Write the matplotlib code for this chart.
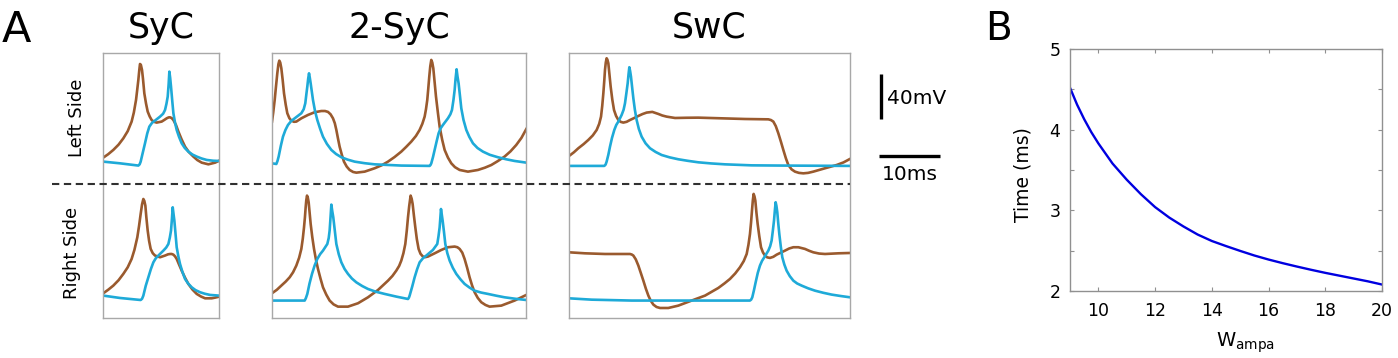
import numpy as np
import matplotlib.pyplot as plt
from matplotlib.lines import Line2D

W, H = 1398, 358
BROWN = '#9a5a2e'
CYAN = '#1eaad8'
GRAY = '#a8a8a8'

# ---- Panel A: membrane potential traces (time in ms, voltage in mV) ----
# SyC, left side
syc_l_brown_t = [0, 0.8, 1.64, 2.5, 3.28, 4.0, 4.64, 5.0, 5.36, 5.55, 5.74, 5.9, 6.01, 6.15, 6.34, 6.5,
                 6.72, 7.0, 7.27, 7.6, 7.92, 8.3, 8.74, 9.56, 10.0, 10.38, 10.7, 10.93, 11.2, 11.48,
                 11.9, 12.3, 12.8, 13.39, 14.0, 14.75, 15.4, 16.12, 17.21, 18.31, 19.0]
syc_l_brown_v = [-61.0, -58.0, -54.2, -49.5, -43.9, -37.5, -29.0, -21.0, -9.8, -1.0, 8.0, 17.0, 22.2,
                 21.5, 16.9, 9.0, -3.9, -13.0, -20.1, -24.5, -27.6, -29.2, -29.9, -29.0, -27.5, -26.1,
                 -25.3, -25.2, -25.9, -27.6, -32.0, -37.9, -44.5, -51.3, -56.0, -60.1, -63.2, -65.5,
                 -67.0, -65.5, -63.7]
syc_l_cyan_t = [0, 2.73, 5.74, 5.95, 6.12, 6.45, 6.83, 7.2, 7.54, 8.0, 8.47, 9.29, 9.8, 10.11, 10.35,
                10.55, 10.7, 10.82, 10.95, 11.09, 11.3, 11.48, 11.75, 12.02, 12.4, 12.84, 13.35, 13.93,
                14.6, 15.3, 16.1, 16.94, 18.0, 19.0]
syc_l_cyan_v = [-64.6, -66.1, -68.1, -67.0, -64.6, -57.0, -48.3, -39.5, -33.5, -30.0, -28.1, -24.6,
                -22.0, -18.7, -13.0, -6.8, 4.0, 15.4, 10.0, 2.1, -11.0, -21.6, -30.0, -36.4, -42.5,
                -48.3, -52.5, -55.7, -58.3, -60.1, -61.8, -63.1, -63.8, -64.0]
# SyC, right side
syc_r_brown_t = [0, 0.8, 1.64, 2.5, 3.28, 4.0, 4.64, 5.1, 5.57, 5.85, 6.12, 6.35, 6.56, 6.72, 6.89,
                 7.05, 7.27, 7.5, 7.76, 8.1, 8.47, 9.29, 10.11, 10.6, 10.93, 11.2, 11.48, 11.75, 12.02,
                 12.4, 12.84, 13.39, 13.93, 14.6, 15.3, 16.0, 16.67, 17.76, 18.3, 19.0]
syc_r_brown_v = [-61.6, -58.5, -54.8, -50.0, -44.4, -38.5, -31.1, -23.0, -11.9, -2.0, 8.9, 17.5, 22.2,
                 20.5, 16.3, 6.0, -5.9, -15.0, -22.2, -26.0, -28.1, -29.6, -28.1, -27.0, -26.7, -26.7,
                 -27.3, -28.8, -31.1, -36.0, -41.5, -47.8, -53.3, -58.3, -62.2, -64.5, -66.1, -66.1,
                 -65.5, -64.6]
syc_r_cyan_t = [0, 2.73, 6.12, 6.35, 6.56, 6.95, 7.38, 7.8, 8.2, 8.6, 9.02, 9.84, 10.3, 10.66, 10.9,
                11.09, 11.25, 11.37, 11.5, 11.64, 11.85, 12.02, 12.3, 12.57, 12.95, 13.39, 13.9, 14.48,
                15.1, 15.85, 16.6, 17.49, 19.0]
syc_r_cyan_v = [-63.7, -65.8, -67.6, -66.5, -63.7, -55.0, -47.4, -40.0, -34.1, -30.5, -28.1, -23.7,
                -21.0, -17.8, -12.0, -5.9, 5.0, 14.8, 9.0, 3.0, -10.0, -20.7, -29.0, -35.6, -42.5, -48.9,
                -53.0, -56.3, -58.8, -60.7, -62.0, -63.1, -63.7]

# 2-SyC, left side
syc2_l_brown_t = [0, 0.2, 0.44, 0.65, 0.87, 1.05, 1.2, 1.35, 1.53, 1.75, 1.97, 2.25, 2.51, 2.85, 3.17,
                  3.6, 3.99, 4.81, 5.9, 6.99, 8.09, 8.7, 9.18, 9.6, 10.0, 10.3, 10.55, 10.8, 11.09,
                  11.45, 11.8, 12.25, 12.73, 13.3, 13.83, 15.19, 16.83, 18.0, 19.02, 20.1, 21.2, 22.0,
                  22.84, 23.6, 24.21, 24.65, 25.03, 25.25, 25.46, 25.62, 25.79, 25.95, 26.12, 26.28,
                  26.45, 26.65, 26.89, 27.2, 27.49, 27.9, 28.31, 28.85, 29.4, 30.0, 30.77, 32.13, 33.77,
                  34.9, 35.96, 37.0, 38.14, 39.1, 40.05, 40.9, 41.7]
syc2_l_brown_v = [-29.0, -21.0, -9.8, 2.0, 13.9, 22.0, 25.2, 23.5, 18.4, 8.0, -3.9, -14.0, -21.6, -26.0,
                  -28.1, -29.2, -29.0, -26.1, -23.1, -20.7, -19.6, -19.6, -20.4, -22.5, -26.1, -30.5,
                  -36.4, -43.5, -51.3, -58.5, -64.6, -69.0, -72.0, -73.8, -74.4, -73.5, -70.5, -67.8,
                  -64.6, -60.5, -55.7, -51.5, -46.8, -41.8, -36.4, -31.0, -24.6, -18.0, -9.8, 0.0, 11.0,
                  20.0, 25.8, 23.5, 18.4, 7.0, -6.8, -21.0, -33.5, -45.0, -54.2, -61.0, -66.1, -69.5,
                  -72.0, -73.5, -72.0, -70.0, -67.6, -64.2, -60.1, -55.5, -49.8, -43.5, -35.6]
syc2_l_cyan_t = [0, 0.71, 0.9, 1.09, 1.45, 1.8, 2.2, 2.62, 3.15, 3.72, 4.81, 5.2, 5.46, 5.65, 5.79, 5.93,
                 6.07, 6.2, 6.34, 6.52, 6.72, 7.05, 7.43, 7.9, 8.36, 9.0, 9.73, 10.5, 11.37, 12.4, 13.55,
                 15.2, 16.83, 21.2, 25.85, 26.0, 26.12, 26.4, 26.67, 27.0, 27.32, 27.65, 28.03, 28.85,
                 29.25, 29.51, 29.75, 29.95, 30.1, 30.27, 30.42, 30.6, 30.8, 31.04, 31.4, 31.86, 32.35,
                 32.95, 33.7, 34.59, 35.7, 37.05, 38.4, 39.78, 41.7]
syc2_l_cyan_v = [-66.1, -66.7, -64.0, -60.1, -50.5, -42.4, -36.5, -32.0, -28.5, -26.1, -21.6, -18.0,
                 -12.7, -4.0, 2.1, 9.0, 13.9, 10.0, 5.0, -2.0, -9.8, -19.5, -27.6, -35.5, -42.4, -48.8,
                 -54.2, -57.8, -60.7, -62.8, -64.6, -66.0, -67.0, -68.1, -68.4, -67.5, -66.1, -60.5,
                 -54.2, -46.5, -39.4, -35.0, -32.0, -26.1, -22.5, -18.7, -10.0, -0.9, 9.0, 17.5, 11.0,
                 5.0, -5.0, -17.2, -27.5, -36.4, -42.5, -48.3, -52.5, -55.7, -58.5, -60.7, -62.5, -64.0,
                 -65.5]
# 2-SyC, right side
syc2_r_brown_t = [0, 0.8, 1.53, 2.25, 2.9, 3.45, 3.99, 4.45, 4.81, 5.05, 5.25, 5.4, 5.52, 5.62, 5.74,
                  5.87, 6.01, 6.17, 6.34, 6.6, 6.89, 7.2, 7.54, 7.95, 8.36, 8.9, 9.45, 10.1, 10.82, 12.46,
                  14.1, 15.74, 17.38, 19.02, 19.75, 20.38, 20.85, 21.2, 21.55, 21.86, 22.1, 22.3, 22.5,
                  22.73, 22.9, 23.06, 23.28, 23.5, 23.75, 24.04, 24.35, 24.75, 25.15, 25.57, 26.67,
                  27.76, 28.85, 29.95, 30.4, 30.77, 31.2, 31.58, 32.0, 32.4, 32.8, 33.22, 33.75, 34.32,
                  35.0, 35.68, 37.6, 39.78, 41.7]
syc2_r_brown_v = [-61.6, -58.5, -54.8, -51.2, -47.4, -43.0, -37.0, -30.0, -22.2, -13.0, -3.0, 6.0, 14.8,
                  21.0, 25.2, 23.5, 19.3, 10.0, 0.0, -11.5, -22.2, -31.5, -40.0, -48.5, -56.3, -62.8,
                  -68.1, -71.5, -73.5, -73.5, -70.5, -65.2, -58.7, -50.4, -46.2, -41.5, -37.3, -32.6,
                  -26.0, -17.8, -6.0, 5.9, 16.0, 25.2, 22.5, 17.8, 7.0, -3.0, -13.5, -22.2, -26.5, -29.0,
                  -29.5, -29.0, -26.1, -23.1, -20.7, -20.1, -20.7, -22.2, -25.5, -31.1, -39.0, -47.4,
                  -54.5, -60.7, -65.8, -69.6, -72.0, -73.5, -72.6, -68.1, -63.1]
syc2_r_cyan_t = [0, 5.36, 5.55, 5.79, 6.15, 6.56, 7.0, 7.43, 7.9, 8.36, 9.07, 9.3, 9.45, 9.6, 9.73, 9.88,
                 10.05, 10.3, 10.55, 10.95, 11.37, 11.9, 12.46, 13.1, 13.83, 14.8, 15.74, 17.0, 18.47,
                 20.4, 22.3, 22.45, 22.57, 23.0, 23.39, 23.8, 24.21, 24.75, 25.3, 26.39, 27.1, 27.3,
                 27.49, 27.6, 27.71, 27.85, 27.98, 28.2, 28.42, 28.75, 29.13, 29.65, 30.22, 30.9, 31.58,
                 32.4, 33.22, 34.3, 35.41, 36.8, 38.14, 39.9, 41.7]
syc2_r_cyan_v = [-68.1, -68.1, -66.0, -62.2, -53.0, -44.4, -36.8, -31.1, -26.8, -23.7, -17.8, -12.5,
                 -5.9, 6.0, 17.2, 11.5, 5.9, -6.0, -17.8, -27.0, -34.1, -40.0, -44.4, -48.5, -51.9,
                 -55.2, -57.8, -60.2, -62.2, -64.6, -66.7, -65.5, -63.7, -55.5, -47.4, -40.2, -34.1,
                 -30.5, -28.1, -23.1, -17.8, -11.0, -3.0, 5.0, 13.3, 8.0, 3.0, -7.0, -17.8, -26.0, -32.6,
                 -39.0, -44.4, -49.2, -53.3, -56.6, -59.3, -61.0, -62.2, -63.8, -65.2, -66.5, -67.6]

# SwC, left side
swc_l_brown_t = [0, 0.8, 1.53, 2.4, 3.17, 3.9, 4.54, 4.95, 5.25, 5.45, 5.63, 5.78, 5.9, 6.03, 6.17, 6.3,
                 6.45, 6.63, 6.83, 7.1, 7.38, 7.72, 8.09, 8.5, 8.91, 9.45, 10.0, 10.7, 11.37, 12.05,
                 12.73, 13.66, 14.64, 15.3, 16.01, 17.38, 19.3, 21.2, 25.03, 28.85, 32.68, 33.1, 33.5,
                 33.9, 34.32, 34.75, 35.14, 35.55, 35.96, 36.5, 37.05, 37.7, 38.42, 39.2, 40.05, 41.97,
                 43.88, 45.0, 46.07]
swc_l_brown_v = [-59.6, -56.3, -52.7, -49.0, -45.3, -41.3, -36.4, -31.0, -24.6, -15.0, -3.9, 7.0, 16.9,
                 23.5, 27.3, 26.0, 22.8, 13.0, 2.1, -9.5, -18.7, -24.0, -27.6, -29.3, -29.9, -29.2,
                 -27.6, -25.8, -24.0, -22.3, -21.0, -20.4, -22.2, -23.6, -24.6, -25.8, -25.6, -25.5,
                 -26.1, -26.7, -27.0, -27.6, -29.0, -33.0, -39.4, -47.0, -54.2, -61.5, -67.6, -71.5,
                 -73.5, -74.6, -75.0, -74.6, -73.5, -70.5, -67.6, -65.3, -62.2]
swc_l_cyan_t = [0, 5.79, 6.0, 6.17, 6.45, 6.72, 7.05, 7.43, 7.75, 8.09, 8.63, 8.95, 9.18, 9.4, 9.62,
                9.76, 9.89, 10.02, 10.16, 10.35, 10.55, 10.8, 11.09, 11.45, 11.91, 12.55, 13.28, 14.2,
                15.19, 16.5, 17.92, 19.5, 21.2, 23.3, 25.57, 29.95, 34.86, 46.07]
swc_l_cyan_v = [-68.4, -68.4, -67.2, -64.6, -58.5, -51.3, -43.5, -36.4, -32.0, -29.0, -23.1, -18.5,
                -12.7, -4.0, 5.0, 13.0, 19.3, 16.0, 11.0, 1.5, -8.3, -18.5, -27.6, -35.5, -42.4, -48.3,
                -52.7, -56.0, -58.7, -60.8, -62.5, -63.9, -65.2, -66.2, -67.0, -67.9, -68.1, -68.4]
# SwC, right side
swc_r_brown_t = [0, 2.62, 5.9, 10.0, 10.3, 10.55, 10.95, 11.37, 11.8, 12.19, 12.6, 13.01, 13.4, 13.83,
                 14.35, 14.92, 16.28, 17.92, 20.11, 22.3, 24.48, 25.5, 26.39, 27.25, 28.03, 28.65, 29.13,
                 29.42, 29.67, 29.85, 30.0, 30.14, 30.27, 30.41, 30.55, 30.73, 30.93, 31.2, 31.48, 31.8,
                 32.13, 32.5, 32.95, 33.5, 34.04, 35.41, 36.1, 36.78, 37.6, 38.69, 39.4, 40.05, 41.0,
                 41.97, 44.15, 46.07]
swc_r_brown_v = [-25.2, -26.1, -26.7, -26.7, -27.2, -28.1, -31.5, -37.0, -44.0, -50.4, -57.5, -63.7,
                 -68.2, -71.7, -73.8, -74.7, -74.7, -72.6, -68.1, -63.7, -56.9, -52.8, -48.9, -44.0,
                 -38.5, -33.0, -26.7, -18.5, -8.9, 1.5, 11.9, 21.0, 26.7, 24.5, 20.7, 10.0, 0.0, -11.0,
                 -20.7, -25.3, -28.1, -29.7, -30.2, -29.2, -27.3, -23.7, -21.8, -20.7, -20.7, -22.2,
                 -23.9, -25.2, -26.3, -26.7, -26.1, -25.8]
swc_r_cyan_t = [0, 3.72, 10.27, 29.67, 29.87, 30.05, 30.32, 30.6, 30.95, 31.31, 31.65, 32.02, 32.68,
                32.98, 33.22, 33.42, 33.61, 33.75, 33.88, 34.01, 34.15, 34.3, 34.48, 34.72, 34.97, 35.3,
                35.68, 36.2, 36.78, 37.4, 38.14, 39.2, 40.33, 41.7, 43.06, 44.6, 46.07]
swc_r_cyan_v = [-66.1, -67.3, -68.1, -68.1, -67.2, -65.2, -59.0, -51.9, -43.5, -37.0, -32.8, -29.6,
                -23.7, -19.8, -14.8, -6.0, 3.0, 12.0, 19.3, 16.0, 10.4, 1.0, -8.9, -20.0, -29.6, -36.0,
                -41.5, -46.4, -50.4, -52.9, -54.8, -57.2, -59.3, -61.2, -62.8, -64.1, -65.2]

# ---- Panel B ----
w_ampa = [9, 9.25, 9.5, 9.75, 10, 10.5, 11, 11.5, 12, 12.5, 13, 13.5, 14, 14.5, 15, 15.5, 16, 16.5,
          17, 17.5, 18, 18.5, 19, 19.5, 20]
delay_ms = [4.52, 4.31, 4.13, 3.97, 3.83, 3.58, 3.38, 3.20, 3.04, 2.91, 2.80, 2.70, 2.62, 2.557, 2.497,
            2.44, 2.39, 2.345, 2.303, 2.263, 2.225, 2.19, 2.155, 2.12, 2.08]

titles = ['SyC', '2-SyC', 'SwC']
durations = [19.0, 41.7, 46.07]
traces = [
    [(syc_l_brown_t, syc_l_brown_v, syc_l_cyan_t, syc_l_cyan_v),
     (syc_r_brown_t, syc_r_brown_v, syc_r_cyan_t, syc_r_cyan_v)],
    [(syc2_l_brown_t, syc2_l_brown_v, syc2_l_cyan_t, syc2_l_cyan_v),
     (syc2_r_brown_t, syc2_r_brown_v, syc2_r_cyan_t, syc2_r_cyan_v)],
    [(swc_l_brown_t, swc_l_brown_v, swc_l_cyan_t, swc_l_cyan_v),
     (swc_r_brown_t, swc_r_brown_v, swc_r_cyan_t, swc_r_cyan_v)],
]

fig = plt.figure(figsize=(W / 100, H / 100), dpi=100)


def px_axes(x0, y0, x1, y1):
    return fig.add_axes([x0 / W, 1 - y1 / H, (x1 - x0) / W, (y1 - y0) / H])


def fx(x):
    return x / W


def fy(y):
    return 1 - y / H


box_x = [(103.3, 219.3), (272, 526.3), (569, 850)]
row_offset = 120  # mV shift of the right-side row

for (x0, x1), title, dur, rows in zip(box_x, titles, durations, traces):
    ax = px_axes(x0, 53.3, x1, 318)
    for i, (bt, bv, ct, cv) in enumerate(rows):
        off = row_offset * i
        ax.plot(bt, np.array(bv) - off, color=BROWN, lw=1.9, solid_joinstyle='round')
        ax.plot(ct, np.array(cv) - off, color=CYAN, lw=1.9, solid_joinstyle='round')
    ax.set_xlim(0, dur)
    ax.set_ylim(-203.6, 31.7)
    ax.set_xticks([])
    ax.set_yticks([])
    for s in ax.spines.values():
        s.set_color(GRAY)
        s.set_linewidth(1.0)
    fig.text(fx((x0 + x1) / 2), fy(38), title, fontsize=25, ha='center', va='baseline')

# dashed separator between left and right side
fig.add_artist(Line2D([fx(52), fx(850)], [fy(184), fy(184)], transform=fig.transFigure,
                      color='#303030', lw=1.5, dashes=(3.5, 2.2)))

fig.text(fx(77), fy(118), 'Left Side', rotation=90, fontsize=13, ha='center', va='center')
fig.text(fx(72), fy(253), 'Right Side', rotation=90, fontsize=13, ha='center', va='center')

# scale bars
fig.add_artist(Line2D([fx(881), fx(881)], [fy(74), fy(119)], transform=fig.transFigure,
                      color='black', lw=2.4, solid_capstyle='butt'))
fig.text(fx(887), fy(98), '40mV', fontsize=14.5, ha='left', va='center')
fig.add_artist(Line2D([fx(879), fx(940)], [fy(156), fy(156)], transform=fig.transFigure,
                      color='black', lw=2.4, solid_capstyle='butt'))
fig.text(fx(910), fy(174), '10ms', fontsize=14.5, ha='center', va='center')

fig.text(fx(2), fy(42), 'A', fontsize=31, ha='left', va='baseline')
fig.text(fx(985), fy(40), 'B', fontsize=28, ha='left', va='baseline')

# ---- Panel B axes ----
axb = px_axes(1070, 49, 1382, 291)
axb.plot(w_ampa, delay_ms, color='#0000e0', lw=1.7, solid_joinstyle='round')
axb.set_xlim(9, 20)
axb.set_ylim(2, 5)
axb.set_xticks([10, 12, 14, 16, 18, 20])
axb.set_yticks([2, 3, 4, 5])
axb.set_yticks([2.5, 3.5, 4.5], minor=True)
axb.tick_params(which='both', direction='in', top=True, right=True, color='#909090',
                length=3, width=0.8, labelsize=12.5)
axb.tick_params(axis='x', pad=8)
axb.tick_params(axis='y', pad=7)
for s in axb.spines.values():
    s.set_color('#909090')
    s.set_linewidth(1.0)
fig.text(fx(1023), fy(175), 'Time (ms)', rotation=90, fontsize=13.5, ha='center', va='center')
fig.text(fx(1245), fy(343), r'W$_{\mathrm{ampa}}$', fontsize=14, ha='center', va='center')

fig.savefig('out.png', dpi=100)
